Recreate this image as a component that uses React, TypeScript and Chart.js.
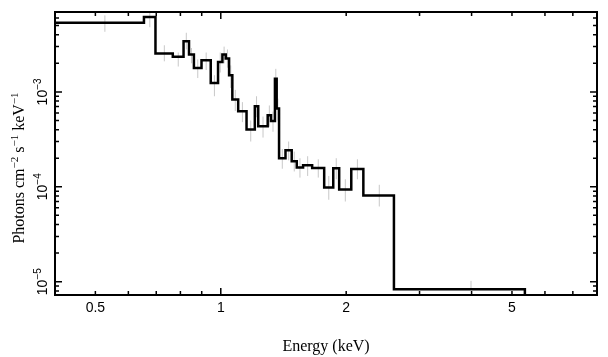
import React, { useEffect, useRef } from "react";
import { Chart, registerables } from "chart.js";

Chart.register(...registerables);

// Energy bin edges (keV)
const binEdges = [
  0.4, 0.654, 0.697, 0.767, 0.814, 0.839, 0.862, 0.899, 0.946, 0.985, 1.009,
  1.028, 1.047, 1.066, 1.101, 1.153, 1.207, 1.23, 1.296, 1.32, 1.349, 1.362,
  1.38, 1.43, 1.48, 1.522, 1.576, 1.657, 1.771, 1.862, 1.924, 2.057, 2.199,
  2.604, 5.37,
];
// Flux per bin (photons cm^-2 s^-1 keV^-1)
const fluxValues = [
  5.37e-3, 6.16e-3, 2.54e-3, 2.34e-3, 3.42e-3, 2.48e-3, 1.79e-3, 2.16e-3,
  1.24e-3, 2.07e-3, 2.48e-3, 2.25e-3, 1.5e-3, 8.32e-4, 6.26e-4, 4.02e-4,
  7.07e-4, 4.35e-4, 5.68e-4, 4.95e-4, 1.38e-3, 6.69e-4, 2.0e-4, 2.43e-4,
  1.86e-4, 1.6e-4, 1.69e-4, 1.58e-4, 9.86e-5, 1.57e-4, 9.39e-5, 1.54e-4,
  8.12e-5, 8.32e-6,
];
const errHigh = [
  6.4e-3, 6.9e-3, 3.1e-3, 2.6e-3, 4.2e-3, 2.9e-3, 2.2e-3, 2.6e-3, 1.5e-3,
  2.6e-3, 3.0e-3, 2.8e-3, 1.9e-3, 1.05e-3, 7.8e-4, 5.0e-4, 9.0e-4, 5.5e-4,
  7.2e-4, 6.2e-4, 1.75e-3, 8.5e-4, 2.5e-4, 3.0e-4, 2.35e-4, 2.0e-4, 2.1e-4,
  1.95e-4, 1.3e-4, 2.0e-4, 1.2e-4, 1.95e-4, 1.05e-4, 1.02e-5,
];
const errLow = [
  4.3e-3, 4.8e-3, 2.1e-3, 1.85e-3, 2.8e-3, 2.0e-3, 1.4e-3, 1.7e-3, 0.9e-3,
  1.6e-3, 2.0e-3, 1.8e-3, 1.1e-3, 6.3e-4, 4.8e-4, 3.0e-4, 5.4e-4, 3.3e-4,
  4.3e-4, 3.8e-4, 1.05e-3, 5.0e-4, 1.55e-4, 1.9e-4, 1.45e-4, 1.25e-4, 1.3e-4,
  1.25e-4, 7.3e-5, 1.2e-4, 7.0e-5, 1.2e-4, 6.2e-5, 8.3e-6,
];
const xTickLabels = [0.5, 1, 2, 5];
const yTickValues = [1e-3, 1e-4, 1e-5];
const yTickExponents = ["\u22123", "\u22124", "\u22125"];
const xRange = [0.4, 8];
const yRange = [7.24e-6, 6.95e-3];
const xTitle = "Energy (keV)";
const yTitleParts = [
  { t: "Photons cm", sup: false },
  { t: "\u22122", sup: true },
  { t: " s", sup: false },
  { t: "\u22121", sup: true },
  { t: " keV", sup: false },
  { t: "\u22121", sup: true },
];

const SANS = "'Liberation Sans', Arial, sans-serif";
const SERIF = "'Liberation Serif', 'Times New Roman', serif";

const framePlugin = {
  id: "framePlugin",
  afterDatasetsDraw(chart: any) {
    const { ctx, chartArea } = chart;
    const { left, right, top, bottom } = chartArea;
    const xs = chart.scales.x;
    const ys = chart.scales.y;
    ctx.save();
    ctx.strokeStyle = "#000";
    ctx.lineWidth = 1.5;
    const xMinE = Math.floor(Math.log10(xs.min));
    const xMaxE = Math.ceil(Math.log10(xs.max));
    for (let e = xMinE; e <= xMaxE; e++) {
      for (let k = 1; k <= 9; k++) {
        const v = k * Math.pow(10, e);
        if (v <= xs.min * 1.001 || v >= xs.max * 0.999) continue;
        const px = xs.getPixelForValue(v);
        const len = k === 1 ? 7 : 4;
        ctx.beginPath();
        ctx.moveTo(px, bottom);
        ctx.lineTo(px, bottom - len);
        ctx.moveTo(px, top);
        ctx.lineTo(px, top + len);
        ctx.stroke();
      }
    }
    const yMinE = Math.floor(Math.log10(ys.min));
    const yMaxE = Math.ceil(Math.log10(ys.max));
    for (let e = yMinE; e <= yMaxE; e++) {
      for (let k = 1; k <= 9; k++) {
        const v = k * Math.pow(10, e);
        if (v <= ys.min * 1.001 || v >= ys.max * 0.999) continue;
        const py = ys.getPixelForValue(v);
        const len = k === 1 ? 7 : 4;
        ctx.beginPath();
        ctx.moveTo(left, py);
        ctx.lineTo(left + len, py);
        ctx.moveTo(right, py);
        ctx.lineTo(right - len, py);
        ctx.stroke();
      }
    }
    ctx.lineWidth = 2;
    ctx.strokeRect(left, top, right - left, bottom - top);
    ctx.restore();
  },
  afterDraw(chart: any) {
    const { ctx } = chart;
    const ys = chart.scales.y;
    ctx.save();
    ctx.fillStyle = "#000";
    ctx.textBaseline = "alphabetic";
    ctx.textAlign = "left";
    yTickValues.forEach((v, i) => {
      const py = ys.getPixelForValue(v);
      ctx.font = `14px ${SANS}`;
      const w1 = ctx.measureText("10").width;
      ctx.font = `10px ${SANS}`;
      const w2 = ctx.measureText(yTickExponents[i]).width;
      const total = w1 + w2;
      ctx.save();
      ctx.translate(46.5, py);
      ctx.rotate(-Math.PI / 2);
      ctx.font = `14px ${SANS}`;
      ctx.fillText("10", -total / 2, 0);
      ctx.font = `10px ${SANS}`;
      ctx.fillText(yTickExponents[i], -total / 2 + w1, -5.5);
      ctx.restore();
    });
    let total = 0;
    const widths: number[] = [];
    yTitleParts.forEach((p) => {
      ctx.font = p.sup ? `11px ${SERIF}` : `16px ${SERIF}`;
      const w = ctx.measureText(p.t).width;
      widths.push(w);
      total += w;
    });
    ctx.save();
    ctx.translate(24, 168);
    ctx.rotate(-Math.PI / 2);
    let xr = -total / 2;
    yTitleParts.forEach((p, i) => {
      ctx.font = p.sup ? `11px ${SERIF}` : `16px ${SERIF}`;
      ctx.fillText(p.t, xr, p.sup ? -6 : 0);
      xr += widths[i];
    });
    ctx.restore();
    ctx.restore();
  },
};

export default function App() {
  const canvasRef = useRef<HTMLCanvasElement | null>(null);

  useEffect(() => {
    if (!canvasRef.current) return;
    const stepData: { x: number; y: number }[] = [];
    for (let i = 0; i < fluxValues.length; i++) {
      stepData.push({ x: binEdges[i], y: fluxValues[i] });
    }
    stepData.push({ x: binEdges[binEdges.length - 1], y: fluxValues[fluxValues.length - 1] });
    stepData.push({ x: binEdges[binEdges.length - 1], y: 1e-7 });

    const errData: { x: number; y: number | null }[] = [];
    for (let i = 0; i < fluxValues.length; i++) {
      const xc = (binEdges[i] + binEdges[i + 1]) / 2;
      errData.push({ x: xc, y: errLow[i] });
      errData.push({ x: xc, y: errHigh[i] });
      errData.push({ x: xc, y: null });
    }

    const chart = new Chart(canvasRef.current, {
      type: "line",
      data: {
        datasets: [
          {
            data: stepData,
            stepped: "before",
            borderColor: "#000",
            borderWidth: 2.5,
            pointRadius: 0,
            fill: false,
          },
          {
            data: errData as any,
            borderColor: "#c8c8c8",
            borderWidth: 1,
            pointRadius: 0,
            spanGaps: false,
            fill: false,
          },
        ],
      },
      options: {
        animation: false,
        responsive: false,
        events: [],
        layout: { padding: { top: 12, right: 11, left: 0, bottom: 0 } },
        plugins: { legend: { display: false }, tooltip: { enabled: false } },
        scales: {
          x: {
            type: "logarithmic",
            min: xRange[0],
            max: xRange[1],
            grid: { display: false, drawTicks: false },
            border: { display: false },
            ticks: {
              autoSkip: false,
              maxRotation: 0,
              padding: 5,
              color: "#000",
              font: { family: SANS, size: 14 },
              callback: (v: any) => {
                const n = Number(v);
                const hit = xTickLabels.find((t) => Math.abs(t - n) < 1e-6);
                return hit !== undefined ? String(hit) : "";
              },
            },
            title: {
              display: true,
              text: xTitle,
              color: "#000",
              font: { family: SERIF, size: 16 },
              padding: { top: 0, bottom: 1 },
            },
            afterFit: (s: any) => {
              s.height = 62;
            },
          },
          y: {
            type: "logarithmic",
            min: yRange[0],
            max: yRange[1],
            grid: { display: false, drawTicks: false },
            border: { display: false },
            ticks: { display: false },
            afterFit: (s: any) => {
              s.width = 55;
            },
          },
        },
      },
      plugins: [framePlugin],
    });
    return () => chart.destroy();
  }, []);

  return (
    <div style={{ position: "fixed", left: 0, top: 0, width: 608, height: 357, background: "#fff" }}>
      <canvas ref={canvasRef} width={608} height={357} style={{ display: "block" }} />
    </div>
  );
}
